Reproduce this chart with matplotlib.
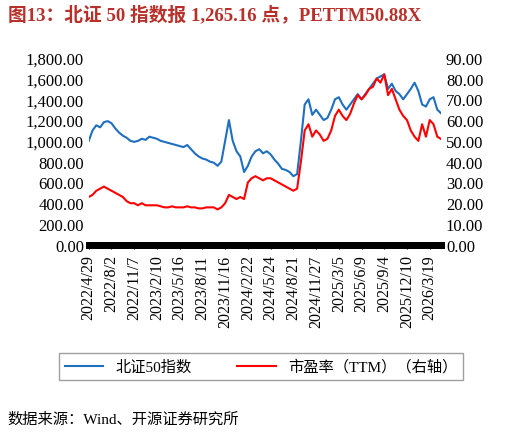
import matplotlib
matplotlib.use("Agg")
import matplotlib.pyplot as plt
from matplotlib.ticker import FuncFormatter

plt.rcParams['font.family'] = ['Liberation Serif', 'Noto Sans CJK SC']

tick_labels = ["2022/4/29","2022/8/2","2022/11/7","2023/2/10","2023/5/16","2023/8/11",
               "2023/11/16","2024/2/22","2024/5/24","2024/8/21","2024/11/27","2025/3/5",
               "2025/6/9","2025/9/4","2025/12/10","2026/3/19"]
index_vals = [1000,1100,1150,1130,1180,1190,
              1170,1120,1080,1050,1030,1000,
              990,1000,1020,1010,1040,1030,
              1020,1000,990,980,970,960,
              950,940,960,920,880,850,
              830,820,800,790,760,800,
              1000,1200,1000,900,850,700,
              760,850,900,920,880,900,
              870,820,780,730,720,700,
              660,680,1000,1350,1400,1250,
              1300,1250,1200,1220,1300,1400,
              1420,1350,1300,1350,1400,1450,
              1400,1450,1500,1550,1600,1620,
              1640,1500,1550,1480,1450,1400,
              1450,1500,1560,1480,1350,1330,
              1400,1420,1300,1265.16]
pe_vals = [23,24,26,27,28,27,
           26,25,24,23,21,20,
           20,19,20,19,19,19,
           19,18.5,18,18,18.5,18,
           18,18,18.5,18,18,17.5,
           17.5,18,18,18,17,18,
           20,24,23,22,23,22,
           30,32,33,32,31,32,
           32,31,30,29,28,27,
           26,27,40,55,58,52,
           55,53,50,51,55,62,
           65,62,60,63,68,72,
           70,72,75,76,80,78,
           82,72,75,70,65,62,
           60,55,52,50,58,52,
           60,58,52,50.88]

x = list(range(len(index_vals)))
fig = plt.figure(figsize=(5.22, 4.35), dpi=100)
ax = fig.add_axes([0.17, 0.435, 0.675, 0.43])
ax2 = ax.twinx()
l1, = ax.plot(x, index_vals, color='#1f6fc0', lw=1.5)
l2, = ax2.plot(x, pe_vals, color='#ff0000', lw=1.5)
ax.set_ylim(0, 1800); ax2.set_ylim(0, 90)
ax.set_yticks(range(0, 1801, 200)); ax2.set_yticks(range(0, 91, 10))
ax.yaxis.set_major_formatter(FuncFormatter(lambda v, p: f"{v:,.2f}"))
ax2.yaxis.set_major_formatter(FuncFormatter(lambda v, p: f"{v:.2f}"))
ax.set_xlim(0, len(x) - 1)
ax.set_xticks([i * 6 for i in range(len(tick_labels))])
ax.set_xticklabels(tick_labels, rotation=90, fontsize=11.5)
for a in (ax, ax2):
    a.tick_params(labelsize=12, length=0)
    for s in ['top', 'left', 'right']:
        a.spines[s].set_visible(False)
    a.spines['bottom'].set_linewidth(5)
ax.tick_params(axis='x', length=3, pad=4, labelsize=11.5)
fig.legend([l1, l2], ['北证50指数', '市盈率（TTM）（右轴）'], loc='center', ncol=2,
           bbox_to_anchor=(0.5, 0.155), fontsize=11, frameon=True, fancybox=False,
           edgecolor='#888888', handlelength=2.5, columnspacing=3)
fig.text(0.015, 0.965, '图13：北证 50 指数报 1,265.16 点，PETTM50.88X', fontsize=13.5,
         fontweight='bold', color='#b8302a', va='center')
fig.text(0.015, 0.035, '数据来源：Wind、开源证券研究所', fontsize=11, va='center')
fig.savefig('out.png', dpi=100)
